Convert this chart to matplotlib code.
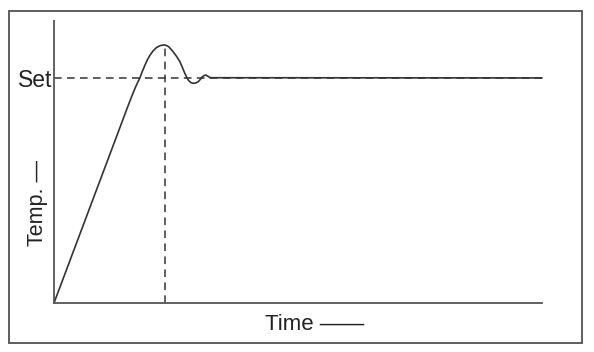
import matplotlib
matplotlib.use("Agg")
import matplotlib.pyplot as plt
from matplotlib.patches import Rectangle

plt.rcParams['font.family'] = ['Liberation Sans', 'DejaVu Sans']

# temperature response (time 0..100, set point = 1)
time = [0, 13.1, 15.0, 16.0, 16.6, 17.1, 17.6, 18.1, 18.6, 19.1, 19.7, 20.3,
        21.0, 21.8, 22.7, 23.5, 24.4, 25.1, 25.8, 26.3, 26.8, 27.2, 27.5,
        28.0, 28.5, 29.1, 29.6, 30.0, 30.3, 30.7, 31.1, 31.5, 32.0, 100]
temp = [0, 0.756, 0.866, 0.922, 0.954, 0.978, 1.000, 1.029, 1.055, 1.079,
        1.102, 1.120, 1.135, 1.144, 1.147, 1.139, 1.117, 1.096, 1.072, 1.047,
        1.021, 1.003, 0.991, 0.980, 0.976, 0.978, 0.984, 0.994, 1.003, 1.010,
        1.013, 1.008, 1.001, 1.0]
set_point = 1.0
peak_time = 22.7
peak_temp = 1.147

line_col = '#333333'
axis_col = '#555555'

fig = plt.figure(figsize=(5.94, 3.52), dpi=100)
ax = fig.add_axes([54 / 594, 49 / 352, 488 / 594, 282 / 352])

ax.plot([0, 100], [set_point, set_point], color=line_col, lw=1.1,
        dashes=(5, 3.5), clip_on=False)
ax.plot([peak_time, peak_time], [0, peak_temp], color=line_col, lw=1.1,
        dashes=(5, 3.5), clip_on=False)
ax.plot(time, temp, color=line_col, lw=1.2, clip_on=False,
        solid_joinstyle='round', solid_capstyle='round')

ax.set_xlim(0, 100)
ax.set_ylim(0, 1.253)
for s in ['top', 'right']:
    ax.spines[s].set_visible(False)
for s in ['left', 'bottom']:
    ax.spines[s].set_color(axis_col)
    ax.spines[s].set_linewidth(1.3)

ax.set_xticks([])
ax.set_yticks([set_point])
ax.set_yticklabels(['Set'], fontsize=16.5, color='#222222')
ax.tick_params(axis='y', length=0, pad=1)

fig.text(38 / 594, 1 - 203 / 352, 'Temp. —', rotation=90, fontsize=15.5,
         color='#222222', ha='center', va='center')
fig.text(265 / 594, 1 - 325 / 352, 'Time ——', fontsize=16,
         color='#222222', ha='left', va='center')

fig.patches.append(Rectangle((9 / 594, 1 - 343 / 352), 573 / 594, 332 / 352,
                             transform=fig.transFigure, fill=False,
                             edgecolor='#505050', lw=1.3))

fig.savefig('out.png', dpi=100)
